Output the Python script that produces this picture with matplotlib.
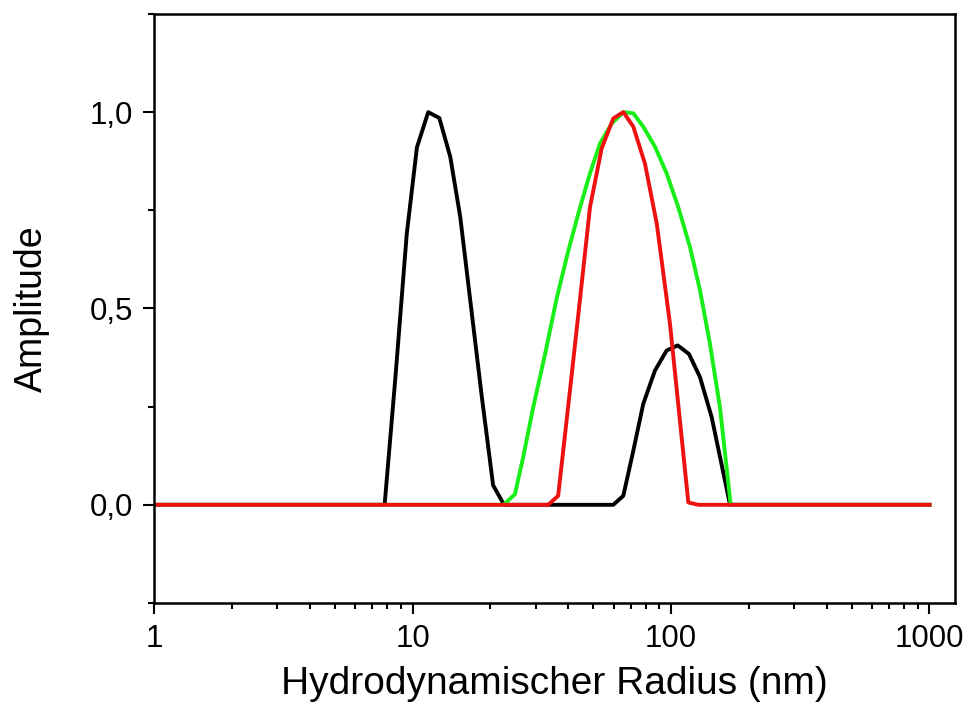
import numpy as np
import matplotlib
matplotlib.use("Agg")
import matplotlib.pyplot as plt
from matplotlib.ticker import FixedLocator, LogLocator, NullFormatter

plt.rcParams['font.family'] = ['Liberation Sans', 'DejaVu Sans']

# black: two populations
black_r = [1, 7.8, 8.6, 9.5, 10.4, 11.5, 12.7, 14.0, 15.3, 16.8, 18.5, 20.5, 22.6,
           59.8, 65.4, 71.5, 78.1, 86.7, 96.2, 106.2, 117.4, 129.5, 143.7, 169.2, 1000]
black_a = [0, 0, 0.33, 0.69, 0.91, 1.0, 0.985, 0.886, 0.733, 0.51, 0.28, 0.05, 0,
           0, 0.023, 0.138, 0.257, 0.342, 0.393, 0.406, 0.384, 0.325, 0.223, 0, 0]

# green
green_r = [1, 22.5, 24.9, 26.8, 29.3, 32.6, 36.1, 40.1, 44.5, 48.6, 53.1, 59.0,
           65.4, 71.5, 78.1, 86.7, 96.2, 106.7, 118.5, 129.5, 141.5, 154.7, 170.2, 1000]
green_a = [0, 0, 0.027, 0.121, 0.248, 0.385, 0.525, 0.648, 0.758, 0.844, 0.92, 0.971,
           1.0, 0.997, 0.963, 0.912, 0.844, 0.758, 0.656, 0.546, 0.41, 0.248, 0, 0]

# red
red_r = [1, 33.5, 36.6, 40.7, 44.5, 48.6, 53.9, 59.8, 65.4, 71.5, 79.3, 88.1,
         99.1, 116.7, 127.5, 1000]
red_a = [0, 0, 0.023, 0.294, 0.526, 0.758, 0.907, 0.984, 1.0, 0.963, 0.869, 0.716,
         0.461, 0.006, 0, 0]

y_ticks = [0.0, 0.5, 1.0]
y_labels = ["0,0", "0,5", "1,0"]
x_ticks = [1, 10, 100, 1000]
x_labels = ["1", "10", "100", "1000"]

fig = plt.figure(figsize=(9.7, 7.13), dpi=100)
ax = fig.add_axes([0.1588, 0.1543, 0.9845 - 0.1588, 0.9804 - 0.1543])

ax.plot(black_r, black_a, color="black", lw=2.8)
ax.plot(green_r, green_a, color="#19ee19", lw=2.8)
ax.plot(red_r, red_a, color="#ee1111", lw=2.8)

ax.set_xscale("log")
ax.set_xlim(1, 1255)
ax.set_ylim(-0.25, 1.25)

ax.xaxis.set_major_locator(FixedLocator(x_ticks))
ax.set_xticklabels(x_labels)
ax.xaxis.set_minor_locator(LogLocator(base=10, subs=np.arange(2, 10), numticks=20))
ax.xaxis.set_minor_formatter(NullFormatter())

ax.yaxis.set_major_locator(FixedLocator(y_ticks))
ax.set_yticklabels(y_labels)
ax.yaxis.set_minor_locator(FixedLocator([-0.25, 0.25, 0.75, 1.25]))

for s in ax.spines.values():
    s.set_linewidth(1.8)

ax.tick_params(which="major", direction="out", length=8, width=1.5, labelsize=22.5, pad=7)
ax.tick_params(which="minor", direction="out", length=4, width=1.5)
ax.tick_params(top=False, right=False, which="both")

ax.set_xlabel("Hydrodynamischer Radius (nm)", fontsize=28, labelpad=9)
ax.set_ylabel("Amplitude", fontsize=27, labelpad=29)

fig.savefig("out.png", dpi=100)
